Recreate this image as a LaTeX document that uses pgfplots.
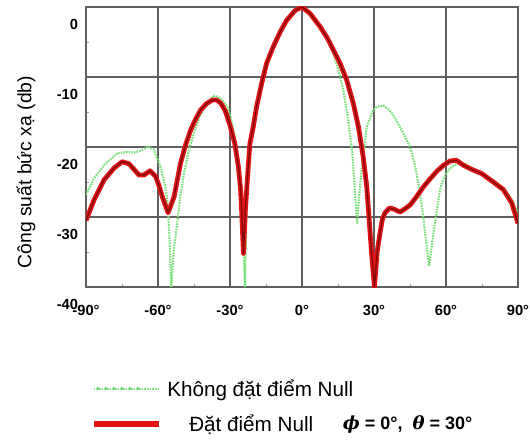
\documentclass[border=0pt]{standalone}
\usepackage{fontspec}
\setmainfont{Liberation Sans}
\newfontfamily\greekfont{DejaVu Serif}
\usepackage{pgfplots}
\usepackage{pgfplotstable}
\pgfplotsset{compat=1.18}
\definecolor{gridgray}{RGB}{95,95,95}
\definecolor{lgreen}{RGB}{120,225,120}
\definecolor{mred}{RGB}{225,20,20}
\definecolor{dred}{RGB}{130,10,10}
\pgfplotstableread{
x y
-90 -30.5
-86.7 -27.6
-82.5 -24.7
-78.3 -23
-74.9 -22.1
-72.1 -22.4
-70 -23.2
-67.9 -24
-65.8 -24
-63.3 -23.4
-61 -24.2
-59.5 -25.6
-58.2 -27.1
-55.8 -29.4
-53.3 -27.1
-50.6 -22.3
-48.5 -19.7
-46.4 -17.6
-44.3 -16
-42.2 -14.7
-39.8 -13.8
-37.4 -13.3
-35.5 -13.3
-33.9 -13.7
-32 -14.8
-30 -16.9
-28 -19.5
-26.5 -22.8
-25.6 -26
-25.1 -29.4
-24.4 -35.2
-23.6 -29
-22.4 -22.8
-21.7 -19.5
-20.3 -17.1
-18.9 -14.2
-16.8 -10.9
-14.7 -8
-12 -5.7
-9 -3.5
-6.4 -1.9
-2.9 -0.5
0 0
3.3 -0.9
7.5 -2.8
10.5 -4.4
13 -6.1
15.8 -8
18.6 -10.4
21.4 -13.8
23.5 -17.1
25.5 -21.4
27 -25.7
29 -35.2
30.2 -40
31.3 -35
32.5 -32.3
33.5 -30.3
34.6 -29.4
36.5 -28.7
38.5 -28.9
40.8 -29.3
43 -28.8
45 -28.3
47.5 -27.2
50.6 -25.7
53.5 -24.5
56.1 -23.5
59 -22.6
61.7 -22
64.4 -21.9
67.2 -22.6
71.4 -23.3
74.9 -23.8
79.7 -25
83.9 -26.1
87.4 -28
90 -30.9
}\rednull
\begin{document}
\begin{tikzpicture}
\useasboundingbox (0,0) rectangle (397.5pt,331.5pt);
\begin{axis}[
  at={(64.5pt,116.25pt)}, anchor=south west,
  width=324pt, height=210pt, scale only axis,
  xmin=-90, xmax=90, ymin=-40, ymax=0,
  xtick={-90,-60,-30,0,30,60,90},
  xticklabels={-90°,-60°,-30°,0°,30°,60°,90°},
  ytick={-40,-30,-20,-10,0},
  yticklabels={-40,-30,-20,-10,0},
  minor x tick num=1, minor y tick num=1,
  xtick pos=left, ytick pos=left,
  tick align=inside,
  major tick length=0pt, minor tick length=2.5pt,
  grid=major,
  major grid style={gridgray, line width=1pt},
  minor tick style={gridgray!60},
  axis line style={gridgray, line width=1pt},
  tick label style={font=\fontsize{11}{13}\selectfont\bfseries},
  xticklabel style={yshift=-10pt},
  yticklabel style={yshift=-12.75pt, xshift=-2.5pt},
  ylabel={Công suất bức xạ (db)},
  ylabel style={at={(axis description cs:-0.139,0.41)}, anchor=center, font=\fontsize{14.5}{16}\selectfont},
  legend style={at={(axis description cs:0.0,-0.31)}, anchor=north west, draw=none, fill=none,
    font=\fontsize{15.5}{18}\selectfont, row sep=8.5pt, column sep=2pt, legend cell align=left,
    nodes={inner sep=2pt}},
]
\addplot[lgreen, line width=1.6pt, dash pattern=on 1.2pt off 0.8pt,
  legend image code/.code={\path (0pt,0pt) -- (48.75pt,0pt); \draw[lgreen, line width=2.2pt, dash pattern=on 2pt off 4pt] (2.25pt,0pt) -- (36pt,0pt);}]
coordinates {
(-90,-26.8) (-86.7,-24.5) (-82.5,-22.6) (-77,-20.9) (-72.8,-20.7) (-69.3,-20.8)
(-66,-20.3) (-64,-19.9) (-61.7,-20.4) (-59,-22.8) (-57,-25.5) (-56,-28)
(-55.2,-33) (-54.5,-40) (-53.5,-35) (-52,-30.9) (-50.5,-26.5) (-49,-23.5)
(-47,-20.3) (-45,-18) (-42.5,-15.5) (-40,-14) (-37,-12.7) (-35,-12.8)
(-33,-13.4) (-31,-14.3) (-29.5,-16) (-28,-18.5) (-26.5,-22) (-25.3,-26.5)
(-24.5,-32) (-23.8,-40) (-23.2,-30) (-22.4,-23) (-21.7,-19.5) (-20.3,-17.1)
(-18.9,-14.2) (-16.8,-10.9) (-14.7,-8) (-12,-5.7) (-9,-3.5) (-6.4,-1.9)
(-2.9,-0.5) (0,0) (3.3,-0.9) (7.5,-2.8) (11,-5) (13,-6.6) (15,-8.8)
(17,-11.5) (19,-15.5) (21,-21) (22.2,-27) (23,-31) (23.8,-27) (25,-22.8)
(27,-17.1) (29.7,-14.7) (31.5,-14.2) (33.9,-14.1) (36,-14.6) (38,-15.4)
(42.2,-18) (45,-20) (47,-22.5) (48.5,-25.2) (50,-28.5) (51.3,-32.3) (53,-37)
(54.5,-33) (55.4,-30.9) (57.5,-26.1) (59,-24.5) (61,-23.3) (63.5,-22.6)
(65.8,-22.3) (68,-22.4) (71.4,-23.3) (75,-23.8) (80,-24.8) (84,-25.8)
(87.5,-27.5) (90,-29.5)
};
\addlegendentry{Không đặt điểm Null}
\addplot[mred, line width=3.6pt, line join=round,
  legend image code/.code={\draw[mred, line width=5pt] (0pt,0pt) -- (48.75pt,0pt);}]
table {\rednull};
\addlegendentry{\hspace{16.5pt}Đặt điểm Null}
\addplot[dred, line width=1pt, line join=round, forget plot] table {\rednull};
\end{axis}
\node[anchor=west, inner sep=0pt, font=\fontsize{13.5}{15}\selectfont\bfseries] at (257pt,13.5pt)
  {{\greekfont\bfseries\itshape ϕ}\;=\;0°,\; {\greekfont\bfseries\itshape θ}\;=\;30°};
\end{tikzpicture}
\end{document}
